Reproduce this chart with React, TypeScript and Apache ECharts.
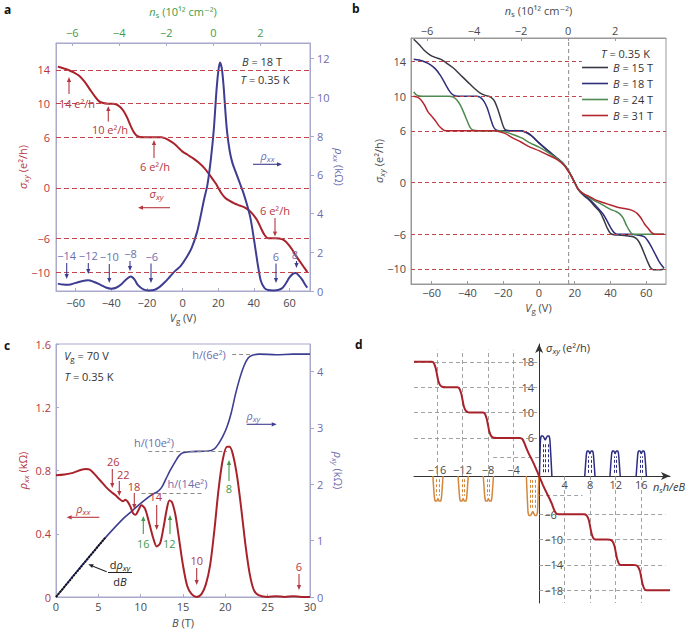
import React, { useEffect, useRef } from "react";
import * as echarts from "echarts";

const FONT = "'Open Sans', 'Liberation Sans', 'DejaVu Sans', sans-serif";

const RED = "#a8222b";
const RED_TXT = "#b4363e";
const BLUE = "#3d3d92";
const BLUE_TXT = "#6d6dae";
const GREEN_TXT = "#3f9a4a";
const FRAME = "#a9a9cc";
const GRAY_TXT = "#4a4a4a";

// ---------------- panel a ----------------
const aVgTicks = [-60, -40, -20, 0, 20, 40, 60];
const aNsTicks = [-6, -4, -2, 0, 2];
const aSigmaTicks = [14, 10, 6, 0, -6, -10];
const aRhoTicks = [0, 2, 4, 6, 8, 10, 12];
const aPlateaus = [14, 10, 6, 0, -6, -10];
const aSigmaVg = [-70, -67, -64, -61, -58, -55, -52, -49, -47, -45, -42, -39, -37, -35, -33, -31, -29, -27, -25, -22, -17, -12, -10, -8, -5, -2, 0, 3, 6, 9, 12, 15, 17, 19, 20, 22, 24, 26, 29, 32, 35, 38, 40, 42, 44, 46, 48, 52, 56, 58, 60, 62, 64, 66, 68, 70];
const aSigma = [14.4, 14.2, 14.0, 13.7, 13.3, 12.6, 11.7, 10.8, 10.3, 10.1, 10.0, 10.0, 9.9, 9.6, 9.1, 8.3, 7.3, 6.5, 6.1, 6.0, 6.0, 6.0, 5.9, 5.7, 5.3, 4.7, 4.3, 3.9, 3.5, 3.0, 2.4, 1.6, 1.0, 0.4, 0, -0.7, -1.2, -1.5, -1.85, -2.1, -2.35, -2.8, -3.3, -3.9, -4.8, -5.6, -6.0, -6.0, -6.1, -6.4, -6.9, -7.5, -8.2, -8.8, -9.4, -10.0];
const aRhoVg = [-70, -67, -64, -60, -56, -53, -50, -46, -43, -40, -37, -34, -31, -29, -27, -25, -22, -19, -16, -13, -10, -7, -4, -1, 2, 5, 8, 10, 12, 14, 16, 17.5, 19, 20, 21, 22, 23, 24, 25, 26.5, 28, 30, 32, 34, 36, 38, 39.5, 41, 42.5, 44, 46, 48, 51, 54, 56, 58, 60, 62, 63.5, 65, 67, 69, 70];
const aRho = [0.38, 0.33, 0.32, 0.42, 0.52, 0.55, 0.48, 0.32, 0.18, 0.12, 0.18, 0.38, 0.65, 0.75, 0.6, 0.3, 0.08, 0.03, 0.05, 0.2, 0.45, 0.75, 1.05, 1.3, 1.7, 2.2, 3.0, 3.8, 4.7, 5.5, 6.9, 8.3, 10.3, 11.3, 11.8, 11.5, 10.6, 9.3, 8.2, 7.2, 6.6, 6.1, 5.6, 5.1, 4.5, 3.8, 3.0, 2.1, 1.2, 0.5, 0.15, 0.05, 0.03, 0.06, 0.15, 0.4, 0.7, 0.9, 0.93, 0.82, 0.6, 0.3, 0.18];

// ---------------- panel b ----------------
const bSigmaTicks = [14, 10, 6, 0, -6, -10];
const bPlateausFull = [6, 0, -6, -10];
const bPlateausShort = [14, 10];
const bShortEndVg = 23.9;
const bNeutralVg = 16.6;
const bNames = ["B = 15 T", "B = 18 T", "B = 24 T", "B = 31 T"];
const b15Vg = [-70, -67, -64, -61, -58, -55, -52, -48, -44, -40, -36, -33, -30, -27, -25, -23, -21, -19.5, -18, -14, -10, -7, -4, 0, 5, 10, 14, 17, 19, 20, 22, 25, 28, 31, 34, 36, 38, 40, 42, 46, 50, 53, 55, 57, 59, 61, 62.5, 64, 67, 70];
const b15Sigma = [16.6, 16.0, 15.3, 14.8, 14.5, 14.3, 13.9, 13.3, 12.5, 11.7, 10.9, 10.4, 10.1, 9.9, 9.5, 8.5, 7.2, 6.3, 6.05, 6.0, 6.0, 5.8, 5.4, 4.6, 3.7, 2.85, 2.1, 1.2, 0.4, 0, -0.8, -1.5, -2.0, -2.7, -3.4, -4.2, -5.2, -5.9, -6.05, -6.1, -6.2, -6.3, -6.6, -7.3, -8.3, -9.3, -9.9, -10.1, -10.1, -10.0];
const b18Vg = [-70, -67, -64, -61, -58, -55, -52, -50, -48, -45, -40, -35, -33, -31, -29, -27, -25.5, -24, -22, -15, -10, -7, -4, 0, 5, 10, 14, 17, 19, 20, 22, 25, 28, 31, 34, 36, 38, 40, 42, 44, 50, 56, 59, 61, 63, 65, 67, 69, 70];
const b18Sigma = [14.3, 14.2, 14.0, 13.7, 13.2, 12.4, 11.3, 10.6, 10.15, 10.0, 10.0, 10.0, 9.9, 9.5, 8.7, 7.4, 6.5, 6.1, 6.0, 6.0, 6.0, 5.8, 5.4, 4.6, 3.7, 2.85, 2.1, 1.2, 0.4, 0, -0.8, -1.4, -1.9, -2.5, -3.2, -3.7, -4.4, -5.2, -5.8, -6.0, -6.0, -6.1, -6.3, -6.8, -7.5, -8.3, -9.1, -9.7, -9.9];
const b24Vg = [-70, -68, -65, -55, -50, -48, -46, -44, -42, -40, -38.5, -37, -34, -25, -20, -15, -10, -5, 0, 5, 10, 14, 17, 19, 20, 22, 25, 28, 31, 34, 37, 40, 43, 45, 47, 49, 51, 52.5, 56, 70];
const b24Sigma = [10.5, 10.1, 10.0, 10.0, 10.0, 9.9, 9.6, 9.0, 8.1, 7.1, 6.4, 6.1, 6.0, 6.0, 5.95, 5.6, 5.2, 4.6, 4.1, 3.5, 2.8, 2.1, 1.2, 0.4, 0, -0.8, -1.3, -1.7, -2.1, -2.4, -2.75, -3.1, -3.35, -3.6, -4.1, -5.0, -5.7, -6.0, -6.0, -6.0];
const b31Vg = [-70, -68, -66, -64, -62, -60, -58, -56, -54, -52, -45, -35, -25, -22, -19, -15, -10, -5, 0, 5, 10, 14, 17, 19, 20, 22, 25, 28, 31, 34, 37, 40, 43, 46, 50, 53, 55, 57, 59, 61, 63, 65, 70];
const b31Sigma = [10.0, 9.9, 9.6, 9.0, 8.2, 7.7, 7.2, 6.6, 6.2, 6.0, 6.0, 6.0, 6.0, 5.9, 5.7, 5.2, 4.7, 4.1, 3.7, 3.2, 2.7, 2.0, 1.1, 0.4, 0, -0.8, -1.3, -1.6, -1.95, -2.2, -2.4, -2.6, -2.8, -2.95, -3.1, -3.3, -3.6, -4.1, -4.8, -5.3, -5.8, -6.0, -6.0];

// ---------------- panel c ----------------
const cBTicks = [0, 5, 10, 15, 20, 25, 30];
const cRhoXXTicks = [0, 0.4, 0.8, 1.2, 1.6];
const cRhoXYTicks = [0, 1, 2, 3, 4];
const cB = [0, 1, 2, 3, 3.5, 4, 4.5, 5, 5.5, 6, 6.5, 7, 7.5, 7.9, 8.2, 8.5, 8.8, 9.1, 9.4, 9.7, 10.1, 10.5, 11, 11.5, 11.9, 12.3, 12.7, 13.1, 13.4, 13.7, 14.1, 14.5, 15, 15.5, 16, 16.6, 17.2, 17.7, 18.2, 18.7, 19.2, 19.7, 20.2, 20.5, 20.9, 21.4, 21.9, 22.4, 22.9, 23.4, 24, 25, 26, 27, 28, 29, 30];
const cRhoXX = [0.77, 0.775, 0.785, 0.805, 0.81, 0.805, 0.78, 0.75, 0.72, 0.69, 0.665, 0.645, 0.62, 0.605, 0.615, 0.6, 0.57, 0.53, 0.52, 0.545, 0.58, 0.56, 0.47, 0.37, 0.32, 0.34, 0.44, 0.56, 0.61, 0.6, 0.52, 0.38, 0.2, 0.07, 0.02, 0.0, 0.02, 0.08, 0.2, 0.42, 0.68, 0.87, 0.95, 0.95, 0.9, 0.76, 0.55, 0.32, 0.14, 0.04, 0.01, 0.0, 0.005, 0.0, 0.005, 0.0, 0.0];
const cBxy = [0, 2, 4, 6, 8, 9, 10, 11, 11.5, 12, 12.5, 13, 13.5, 14, 14.5, 15, 16, 17, 18, 18.7, 19.2, 19.7, 20.2, 20.7, 21.2, 21.7, 22.2, 22.7, 23.2, 24, 26, 28, 30];
const cRhoXY = [0, 0.37, 0.73, 1.08, 1.4, 1.53, 1.66, 1.78, 1.83, 1.87, 1.95, 2.1, 2.25, 2.38, 2.5, 2.56, 2.58, 2.585, 2.59, 2.63, 2.72, 2.85, 3.02, 3.27, 3.6, 3.88, 4.1, 4.24, 4.29, 4.31, 4.3, 4.31, 4.31];
const cDerivB = [0, 5.8];
const cDeriv = [0, 1.05];
const cQuantLevels = [4.3, 2.58, 1.84];
const cQuantFromB = [20.8, 10.9, 10.1];
const cQuantToB = [22.9, 20.2, 17.4];

// ---------------- panel d ----------------
const dPosXTicks = [4, 8, 12, 16];
const dNegXTicks = [-16, -12, -8, -4];
const dPosYTicks = [18, 14, 10, 6];
const dNegYTicks = [-6, -10, -14, -18];
const dXMin = -19.6;
const dXMax = 20.5;
const dYMin = -20;
const dYMax = 20.8;
const dStairs = [[-19.6, 18], [-16.8, 18], [-16.5, 17.8], [-16.2, 17.0], [-16.0, 16.0], [-15.8, 15.0], [-15.5, 14.3], [-15.1, 14.03], [-14.6, 14],
  [-12.8, 14], [-12.5, 13.8], [-12.2, 13.0], [-12.0, 12.0], [-11.8, 11.0], [-11.5, 10.3], [-11.1, 10.03], [-10.6, 10],
  [-8.8, 10], [-8.5, 9.8], [-8.2, 9.0], [-8.0, 8.0], [-7.8, 7.0], [-7.5, 6.3], [-7.1, 6.03], [-6.6, 6],
  [-3.0, 6], [-2.6, 5.8], [-2.3, 5.2], [-2.0, 4.4], [-1.6, 3.5], [-1.1, 2.5], [-0.55, 1.3], [0, 0], [0.55, -1.3], [1.1, -2.5], [1.6, -3.5], [2.0, -4.4], [2.3, -5.2], [2.6, -5.8], [3.0, -6],
  [6.6, -6], [7.1, -6.03], [7.5, -6.3], [7.8, -7.0], [8.0, -8.0], [8.2, -9.0], [8.5, -9.8], [8.8, -10],
  [10.6, -10], [11.1, -10.03], [11.5, -10.3], [11.8, -11.0], [12.0, -12.0], [12.2, -13.0], [12.5, -13.8], [12.8, -14],
  [14.6, -14], [15.1, -14.03], [15.5, -14.3], [15.8, -15.0], [16.0, -16.0], [16.2, -17.0], [16.5, -17.8], [16.8, -18], [20.5, -18]];
const dBlue0 = [[0.05, 0], [0.2, 5.5], [0.35, 6.3], [0.6, 6.3], [0.95, 5.7], [1.3, 6.3], [1.55, 6.3], [1.7, 5.5], [2.0, 0]];
const dBlue8 = [[7.15, 0], [7.4, 3.4], [7.55, 3.95], [7.75, 3.95], [7.95, 3.55], [8.15, 3.95], [8.35, 3.95], [8.5, 3.4], [8.75, 0]];
const dBlue12 = [[11.1, 0], [11.35, 3.4], [11.5, 3.95], [11.7, 3.95], [11.9, 3.55], [12.1, 3.95], [12.3, 3.95], [12.45, 3.4], [12.7, 0]];
const dBlue16 = [[15.2, 0], [15.45, 3.4], [15.6, 3.95], [15.8, 3.95], [16.0, 3.55], [16.2, 3.95], [16.4, 3.95], [16.55, 3.4], [16.8, 0]];
const dOrange0 = [[-2.0, 0], [-1.75, -5.5], [-1.6, -6.2], [-1.35, -6.2], [-1.0, -5.6], [-0.65, -6.2], [-0.4, -6.2], [-0.25, -5.5], [-0.05, 0]];
const dOrange8 = [[-8.75, 0], [-8.5, -3.4], [-8.35, -3.95], [-8.15, -3.95], [-7.95, -3.55], [-7.75, -3.95], [-7.55, -3.95], [-7.4, -3.4], [-7.15, 0]];
const dOrange12 = [[-12.7, 0], [-12.45, -3.4], [-12.3, -3.95], [-12.1, -3.95], [-11.9, -3.55], [-11.7, -3.95], [-11.5, -3.95], [-11.35, -3.4], [-11.1, 0]];
const dOrange16 = [[-16.65, 0], [-16.4, -3.4], [-16.25, -3.95], [-16.05, -3.95], [-15.85, -3.55], [-15.65, -3.95], [-15.45, -3.95], [-15.3, -3.4], [-15.05, 0]];
const dBlueInner = [[0.6, 0.6, 5.2], [1.0, 0.6, 5.0], [1.4, 0.6, 5.2], [7.75, 0.5, 3.1], [8.15, 0.5, 3.1], [11.7, 0.5, 3.1], [12.1, 0.5, 3.1], [15.8, 0.5, 3.1], [16.2, 0.5, 3.1]];
const dOrangeInner = [[-1.45, -0.6, -5.2], [-1.0, -0.6, -5.0], [-0.55, -0.6, -5.2], [-8.15, -0.5, -3.1], [-7.75, -0.5, -3.1], [-12.1, -0.5, -3.1], [-11.7, -0.5, -3.1], [-16.05, -0.5, -3.1], [-15.65, -0.5, -3.1]];
const dGridTop = 19.9;
const dGridBottom = -20;
const dGridLeft = -19.6;
const dGridRight = 19.8;
const dShortLevels = [3, -3];
const dShortExtent = [[-7.2, 0], [0, 6.8]];

const zip = (xs: number[], ys: number[]) => xs.map((x, i) => [x, ys[i]]);
const fmtNum = (v: number) => (v < 0 ? "\u2212" + String(-v) : String(v));

const richAxis = (color: string, size = 11) => ({
  i: { fontStyle: "italic", fontSize: size, fontFamily: FONT, color },
  sub: { fontSize: size - 3, fontFamily: FONT, color, padding: [6, 0, 0, 0] },
  isub: { fontStyle: "italic", fontSize: size - 3, fontFamily: FONT, color, padding: [6, 0, 0, 0] },
});
const richG = (fill: string, size = 11) => ({
  i: { fontStyle: "italic", fontSize: size, fontFamily: FONT, fill },
  sub: { fontSize: size - 3, fontFamily: FONT, fill, padding: [6, 0, 0, 0] },
  isub: { fontStyle: "italic", fontSize: size - 3, fontFamily: FONT, fill, padding: [6, 0, 0, 0] },
});

function valAxis(o: any) {
  return {
    type: "value",
    gridIndex: o.grid,
    position: o.position,
    min: o.min,
    max: o.max,
    axisLine: { show: true, onZero: false, lineStyle: { color: o.lineColor, width: 1 } },
    axisTick: {
      show: !!o.tickLen,
      inside: !!o.tickInside,
      length: o.tickLen || 0,
      customValues: o.ticks,
      lineStyle: { color: o.lineColor },
    },
    axisLabel: {
      customValues: o.ticks,
      color: o.labelColor,
      fontSize: 11,
      fontFamily: FONT,
      margin: o.margin,
      formatter: o.formatter || fmtNum,
    },
    splitLine: { show: false },
    name: o.name,
    nameLocation: "middle",
    nameGap: o.nameGap,
    nameRotate: o.nameRotate,
    nameMoveOverlap: false,
    nameTextStyle: { color: o.nameColor, fontSize: 11, fontFamily: FONT, rich: richAxis(o.nameColor) },
  };
}

// axis that only carries tick labels, placed on the edge of a quadrant grid that touches the zero line
function labelOnlyAxis(grid: number, position: string, min: number, max: number, ticks: number[], margin: number) {
  return {
    type: "value",
    gridIndex: grid,
    position,
    min,
    max,
    axisLine: { show: false, onZero: false },
    axisTick: { show: false },
    axisLabel: { inside: true, customValues: ticks, color: GRAY_TXT, fontSize: 11, fontFamily: FONT, margin, formatter: fmtNum },
    splitLine: { show: false },
  };
}

function line(data: any[], xi: number, yi: number, color: string, width: number, extra: any = {}) {
  return {
    type: "line",
    data,
    xAxisIndex: xi,
    yAxisIndex: yi,
    showSymbol: false,
    symbol: "none",
    smooth: 0.3,
    silent: true,
    lineStyle: { color, width },
    itemStyle: { color },
    emphasis: { disabled: true },
    ...extra,
  };
}

function mark(data: any[], color: string, width: number, dash: any) {
  return {
    silent: true,
    symbol: ["none", "none"],
    label: { show: false },
    emphasis: { disabled: true },
    lineStyle: { color, width, type: dash },
    data,
  };
}

function gt(x: number, y: number, text: string, fill: string, opt: any = {}) {
  const size = opt.size ?? 11;
  return {
    type: "text",
    x,
    y,
    silent: true,
    z: 100,
    style: {
      text,
      fill,
      fontSize: size,
      fontFamily: FONT,
      fontWeight: opt.bold ? "bold" : "normal",
      align: opt.align ?? "center",
      verticalAlign: "middle",
      rich: richG(fill, size),
    },
  };
}

function arrow(x1: number, y1: number, x2: number, y2: number, color: string, head = 5) {
  const dx = x2 - x1;
  const dy = y2 - y1;
  const L = Math.hypot(dx, dy);
  const ux = dx / L;
  const uy = dy / L;
  const bx = x2 - ux * head;
  const by = y2 - uy * head;
  const px = -uy;
  const py = ux;
  const hw = head * 0.42;
  return [
    { type: "line", silent: true, z: 100, shape: { x1, y1, x2: bx, y2: by }, style: { stroke: color, lineWidth: 1.1 } },
    {
      type: "polygon",
      silent: true,
      z: 100,
      shape: { points: [[x2, y2], [bx + px * hw, by + py * hw], [bx - px * hw, by - py * hw]] },
      style: { fill: color },
    },
  ];
}

// panel d geometry (pixel box of its grid)
const D_LEFT = 414;
const D_TOP = 344;
const D_W = 256;
const D_H = 259;

function buildOption() {
  const dZeroY = D_TOP + (dYMax / (dYMax - dYMin)) * D_H;
  const dZeroX = D_LEFT + ((0 - dXMin) / (dXMax - dXMin)) * D_W;

  const xAxis = [
    // 0: a, Vg bottom
    valAxis({ grid: 0, position: "bottom", min: -71, max: 71.5, ticks: aVgTicks, lineColor: FRAME, tickLen: 3, tickInside: true, labelColor: GRAY_TXT, margin: 6, name: "{i|V}{sub|g} (V)", nameGap: 19, nameColor: GRAY_TXT }),
    // 1: a, ns top
    valAxis({ grid: 0, position: "top", min: -6.69, max: 4.11, ticks: aNsTicks, lineColor: FRAME, tickLen: 3, tickInside: true, labelColor: GREEN_TXT, margin: 5, name: "{i|n}{sub|s} (10¹² cm⁻²)", nameGap: 25, nameColor: GREEN_TXT }),
    // 2: b, Vg bottom
    valAxis({ grid: 1, position: "bottom", min: -71.5, max: 71, ticks: aVgTicks, lineColor: "#999", tickLen: 3, tickInside: true, labelColor: GRAY_TXT, margin: 3, name: "{i|V}{sub|g} (V)", nameGap: 16, nameColor: GRAY_TXT }),
    // 3: b, ns top
    valAxis({ grid: 1, position: "top", min: -6.68, max: 4.16, ticks: aNsTicks, lineColor: "#999", tickLen: 3, tickInside: true, labelColor: GRAY_TXT, margin: 2, name: "{i|n}{sub|s} (10¹² cm⁻²)", nameGap: 21, nameColor: GRAY_TXT }),
    // 4: c, B bottom
    valAxis({ grid: 2, position: "bottom", min: 0, max: 30, ticks: cBTicks, lineColor: FRAME, tickLen: 3, tickInside: true, labelColor: GRAY_TXT, margin: 4, name: "{i|B} (T)", nameGap: 20, nameColor: GRAY_TXT }),
    // 5: d, main x axis line with arrow (through zero)
    {
      type: "value", gridIndex: 3, position: "bottom", min: dXMin, max: dXMax,
      axisLine: { show: true, onZero: true, symbol: ["none", "arrow"], symbolSize: [6, 9], lineStyle: { color: "#333", width: 1 } },
      axisTick: { show: false },
      axisLabel: { show: false },
      splitLine: { show: false },
    },
    // 6: d, positive labels below the zero line (bottom-right quadrant grid)
    labelOnlyAxis(4, "top", 0, dXMax, dPosXTicks, 3),
    // 7: d, negative labels above the zero line (top-left quadrant grid)
    labelOnlyAxis(5, "bottom", dXMin, 0, dNegXTicks, 1),
  ];

  const yAxis = [
    // 0: a sigma
    valAxis({ grid: 0, position: "left", min: -12.25, max: 17.2, ticks: aSigmaTicks, lineColor: FRAME, tickLen: 0, labelColor: RED_TXT, margin: 6, name: "{i|σ}{isub|xy} (e²/h)", nameGap: 27, nameColor: RED_TXT }),
    // 1: a rho
    valAxis({ grid: 0, position: "right", min: 0, max: 12.8, ticks: aRhoTicks, lineColor: FRAME, tickLen: 4, tickInside: false, labelColor: BLUE_TXT, margin: 7, name: "{i|ρ}{isub|xx} (kΩ)", nameGap: 22, nameRotate: -90, nameColor: BLUE_TXT }),
    // 2: b sigma
    valAxis({ grid: 1, position: "left", min: -11.75, max: 16.75, ticks: bSigmaTicks, lineColor: "#999", tickLen: 0, labelColor: GRAY_TXT, margin: 5, name: "{i|σ}{isub|xy} (e²/h)", nameGap: 26, nameColor: GRAY_TXT }),
    // 3: c rho_xx
    valAxis({ grid: 2, position: "left", min: 0, max: 1.6, ticks: cRhoXXTicks, lineColor: FRAME, tickLen: 3, tickInside: true, labelColor: RED_TXT, margin: 5, formatter: (v: number) => (v === 0 ? "0" : v.toFixed(1)), name: "{i|ρ}{isub|xx} (kΩ)", nameGap: 27, nameColor: RED_TXT }),
    // 4: c rho_xy
    valAxis({ grid: 2, position: "right", min: 0, max: 4.49, ticks: cRhoXYTicks, lineColor: FRAME, tickLen: 4, tickInside: false, labelColor: BLUE_TXT, margin: 7, name: "{i|ρ}{isub|xy} (kΩ)", nameGap: 21, nameRotate: -90, nameColor: BLUE_TXT }),
    // 5: d main y axis line with arrow (through zero)
    {
      type: "value", gridIndex: 3, position: "left", min: dYMin, max: dYMax,
      axisLine: { show: true, onZero: true, symbol: ["none", "arrow"], symbolSize: [6, 9], lineStyle: { color: "#333", width: 1 } },
      axisTick: { show: false },
      axisLabel: { show: false },
      splitLine: { show: false },
    },
    // 6: d negative labels right of the zero line (bottom-right quadrant grid)
    labelOnlyAxis(4, "left", dYMin, 0, dNegYTicks, 5),
    // 7: d positive labels left of the zero line (top-left quadrant grid)
    labelOnlyAxis(5, "right", 0, dYMax, dPosYTicks, 5),
  ];

  const redDash = "#c2454d";
  const grayDash = "#8a8a8a";

  const bColors = ["#3a3a46", "#2e2e7a", "#4e8a50", "#b3262e"];
  const bData = [zip(b15Vg, b15Sigma), zip(b18Vg, b18Sigma), zip(b24Vg, b24Sigma), zip(b31Vg, b31Sigma)];

  const dGridLines: any[] = [];
  dPosYTicks.forEach((v) => dGridLines.push([{ coord: [dGridLeft, v] }, { coord: [0, v] }]));
  dNegYTicks.forEach((v) => dGridLines.push([{ coord: [0, v] }, { coord: [dGridRight, v] }]));
  dNegXTicks.forEach((v) => dGridLines.push([{ coord: [v, 0] }, { coord: [v, dGridTop] }]));
  dPosXTicks.forEach((v) => dGridLines.push([{ coord: [v, 0] }, { coord: [v, dGridBottom] }]));
  dShortLevels.forEach((v, i) => dGridLines.push([{ coord: [dShortExtent[i][0], v] }, { coord: [dShortExtent[i][1], v] }]));

  const series: any[] = [
    // ---- a ----
    line(zip(aSigmaVg, aSigma), 0, 0, RED, 2, {
      z: 3,
      markLine: mark(aPlateaus.map((v) => ({ yAxis: v })), redDash, 1, [5, 3]),
    }),
    line(zip(aRhoVg, aRho), 0, 1, BLUE, 2, { z: 4 }),
    // ---- b ----
    line([[bNeutralVg, -11.75], [bNeutralVg, 16.75]], 2, 2, grayDash, 1, {
      smooth: false,
      lineStyle: { color: grayDash, width: 1, type: [4, 3] },
      markLine: mark(
        [
          ...bPlateausFull.map((v) => ({ yAxis: v })),
          ...bPlateausShort.map((v) => [{ coord: [-71.5, v] }, { coord: [bShortEndVg, v] }]),
        ],
        redDash,
        1,
        [4, 3]
      ),
    }),
    ...bNames.map((n, i) => line(bData[i], 2, 2, bColors[i], 1.5, { name: n, z: 3 + i })),
    // ---- c ----
    line(zip(cBxy, cRhoXY), 4, 4, BLUE, 1.6, {
      markLine: mark(
        cQuantLevels.map((v, i) => [{ coord: [cQuantFromB[i], v] }, { coord: [cQuantToB[i], v] }]),
        grayDash,
        1,
        [4, 3]
      ),
    }),
    line(zip(cDerivB, cDeriv), 4, 4, "#111", 2, { smooth: false, lineStyle: { color: "#111", width: 2, type: [2, 1] } }),
    line(zip(cB, cRhoXX), 4, 3, RED, 2, { z: 5 }),
    // ---- d ----
    line(dStairs, 5, 5, RED, 2, {
      smooth: 0.2,
      z: 5,
      markLine: mark(dGridLines, grayDash, 0.8, [4, 3]),
    }),
    ...[dBlue0, dBlue8, dBlue12, dBlue16].map((p, i) =>
      line(p, 5, 5, "#2c2c80", 1.5, {
        smooth: 0.2,
        z: 4,
        markLine: i === 0 ? mark(dBlueInner.map((s) => [{ coord: [s[0], s[1]] }, { coord: [s[0], s[2]] }]), "#2c2c80", 1, [3, 2]) : undefined,
      })
    ),
    ...[dOrange0, dOrange8, dOrange12, dOrange16].map((p, i) =>
      line(p, 5, 5, "#d4873c", 1.5, {
        smooth: 0.2,
        z: 4,
        markLine: i === 0 ? mark(dOrangeInner.map((s) => [{ coord: [s[0], s[1]] }, { coord: [s[0], s[2]] }]), "#d4873c", 1, [3, 2]) : undefined,
      })
    ),
  ];

  const elements: any[] = [
    gt(4, 9, "a", "#111", { bold: true, align: "left", size: 12 }),
    gt(352, 8, "b", "#111", { bold: true, align: "left", size: 12 }),
    gt(4, 345, "c", "#111", { bold: true, align: "left", size: 12 }),
    gt(355, 344, "d", "#111", { bold: true, align: "left", size: 12 }),
    // panel a
    gt(262, 61, "{i|B} = 18 T", "#333"),
    gt(265, 79, "{i|T} = 0.35 K", "#333"),
    gt(77, 103.3, "14 e²/h", RED_TXT), ...arrow(69, 94, 69, 77, RED_TXT),
    gt(110, 129.3, "10 e²/h", RED_TXT), ...arrow(108.3, 121.5, 108.3, 106, RED_TXT),
    gt(155, 166, "6 e²/h", RED_TXT), ...arrow(154, 158, 154, 140, RED_TXT),
    gt(156.5, 193, "{i|σ}{isub|xy}", RED_TXT), ...arrow(170, 207.7, 138, 207.7, RED_TXT),
    gt(267.5, 155, "{i|ρ}{isub|xx}", BLUE_TXT), ...arrow(253, 164.3, 282, 164.3, BLUE),
    gt(275, 210.7, "6 e²/h", RED_TXT), ...arrow(275, 218, 275, 236.5, RED_TXT),
    gt(66.7, 255, "\u221214", BLUE_TXT), ...arrow(66.7, 263, 66.7, 279, BLUE),
    gt(88.3, 255, "\u221212", BLUE_TXT), ...arrow(88.3, 263, 88.3, 274, BLUE),
    gt(109.3, 256, "\u221210", BLUE_TXT), ...arrow(109.3, 264, 109.3, 283, BLUE),
    gt(130.5, 253.3, "\u22128", BLUE_TXT), ...arrow(130, 261, 130, 271, BLUE),
    gt(151.7, 256, "\u22126", BLUE_TXT), ...arrow(151, 263.5, 151, 283, BLUE),
    gt(276, 256, "6", BLUE_TXT), ...arrow(276, 263.5, 276, 283, BLUE),
    gt(295, 254, "8", BLUE_TXT), ...arrow(296.5, 261, 296.5, 268, BLUE),
    // panel b
    gt(625.5, 53.3, "{i|T} = 0.35 K", "#333"),
    // panel c
    gt(86.5, 355, "{i|V}{sub|g} = 70 V", "#333"),
    gt(89, 376, "{i|T} = 0.35 K", "#333"),
    gt(209, 354, "h/(6e²)", BLUE_TXT),
    gt(154, 442.7, "h/(10e²)", BLUE_TXT),
    gt(187.5, 483.3, "h/(14e²)", BLUE_TXT),
    gt(113.3, 461.7, "26", RED_TXT), ...arrow(112.3, 469, 112.3, 488, RED_TXT),
    gt(123.3, 474, "22", RED_TXT), ...arrow(119.3, 481, 119.3, 496, RED_TXT),
    gt(134, 486, "18", RED_TXT), ...arrow(134.3, 493, 134.3, 509, RED_TXT),
    gt(155.7, 496.7, "14", RED_TXT), ...arrow(156.7, 505, 156.7, 530, RED_TXT),
    gt(196.7, 560, "10", RED_TXT), ...arrow(196.7, 568, 196.7, 585, RED_TXT),
    gt(299, 566.7, "6", RED_TXT), ...arrow(299, 574, 299, 590, RED_TXT),
    gt(143.3, 543.3, "16", GREEN_TXT), ...arrow(143.3, 534, 143.3, 516, GREEN_TXT),
    gt(169.3, 543.3, "12", GREEN_TXT), ...arrow(170, 534, 170, 515, GREEN_TXT),
    gt(229, 488.3, "8", GREEN_TXT), ...arrow(229, 481, 229, 460, GREEN_TXT),
    gt(83.3, 508.3, "{i|ρ}{isub|xx}", RED_TXT), ...arrow(99.3, 517.3, 66.7, 517.3, RED_TXT),
    gt(253.3, 415, "{i|ρ}{isub|xy}", BLUE_TXT), ...arrow(246.7, 424.3, 276.7, 424.3, BLUE),
    gt(120, 564, "d{i|ρ}{isub|xy}", "#222"),
    { type: "line", silent: true, z: 100, shape: { x1: 108, y1: 572.5, x2: 132, y2: 572.5 }, style: { stroke: "#222", lineWidth: 1 } },
    gt(120, 581, "d{i|B}", "#222"),
    ...arrow(106.7, 571.7, 88.3, 564.3, "#222"),
    // panel d
    gt(546, 347, "{i|σ}{isub|xy} (e²/h)", "#333", { align: "left" }),
    gt(653, 486.7, "{i|n}{isub|s}{i|h/eB}", "#333", { align: "left" }),
  ];

  return {
    animation: false,
    backgroundColor: "#ffffff",
    textStyle: { fontFamily: FONT },
    grid: [
      { left: 56, top: 43, width: 254, height: 248, show: true, borderColor: FRAME, borderWidth: 1, outerBoundsMode: "none" },
      { left: 411, top: 38, width: 255, height: 246, show: true, borderColor: "#999", borderWidth: 1, outerBoundsMode: "none" },
      { left: 56, top: 344, width: 254, height: 253, show: true, borderColor: FRAME, borderWidth: 1, outerBoundsMode: "none" },
      { left: D_LEFT, top: D_TOP, width: D_W, height: D_H, show: false, outerBoundsMode: "none" },
      // bottom-right quadrant of panel d (for label placement only)
      { left: dZeroX, top: dZeroY, width: D_LEFT + D_W - dZeroX, height: D_TOP + D_H - dZeroY, show: false, outerBoundsMode: "none" },
      // top-left quadrant of panel d (for label placement only)
      { left: D_LEFT, top: D_TOP, width: dZeroX - D_LEFT, height: dZeroY - D_TOP, show: false, outerBoundsMode: "none" },
    ],
    legend: {
      show: true,
      orient: "vertical",
      left: 582,
      top: 62,
      padding: 0,
      icon: "rect",
      itemWidth: 26,
      itemHeight: 1.6,
      itemGap: 5,
      selectedMode: false,
      data: bNames,
      formatter: (n: string) => "{i|B}" + n.slice(1),
      textStyle: { fontSize: 11, fontFamily: FONT, color: "#333", rich: richAxis("#333") },
    },
    xAxis,
    yAxis,
    series,
    graphic: { elements },
  };
}

export default function App() {
  const ref = useRef<HTMLDivElement>(null);
  useEffect(() => {
    const chart = echarts.init(ref.current as HTMLDivElement, undefined, { renderer: "svg" });
    chart.setOption(buildOption() as any);
    return () => chart.dispose();
  }, []);
  return (
    <div
      ref={ref}
      style={{ position: "absolute", left: 0, top: 0, width: 685, height: 629, background: "#fff" }}
    />
  );
}
